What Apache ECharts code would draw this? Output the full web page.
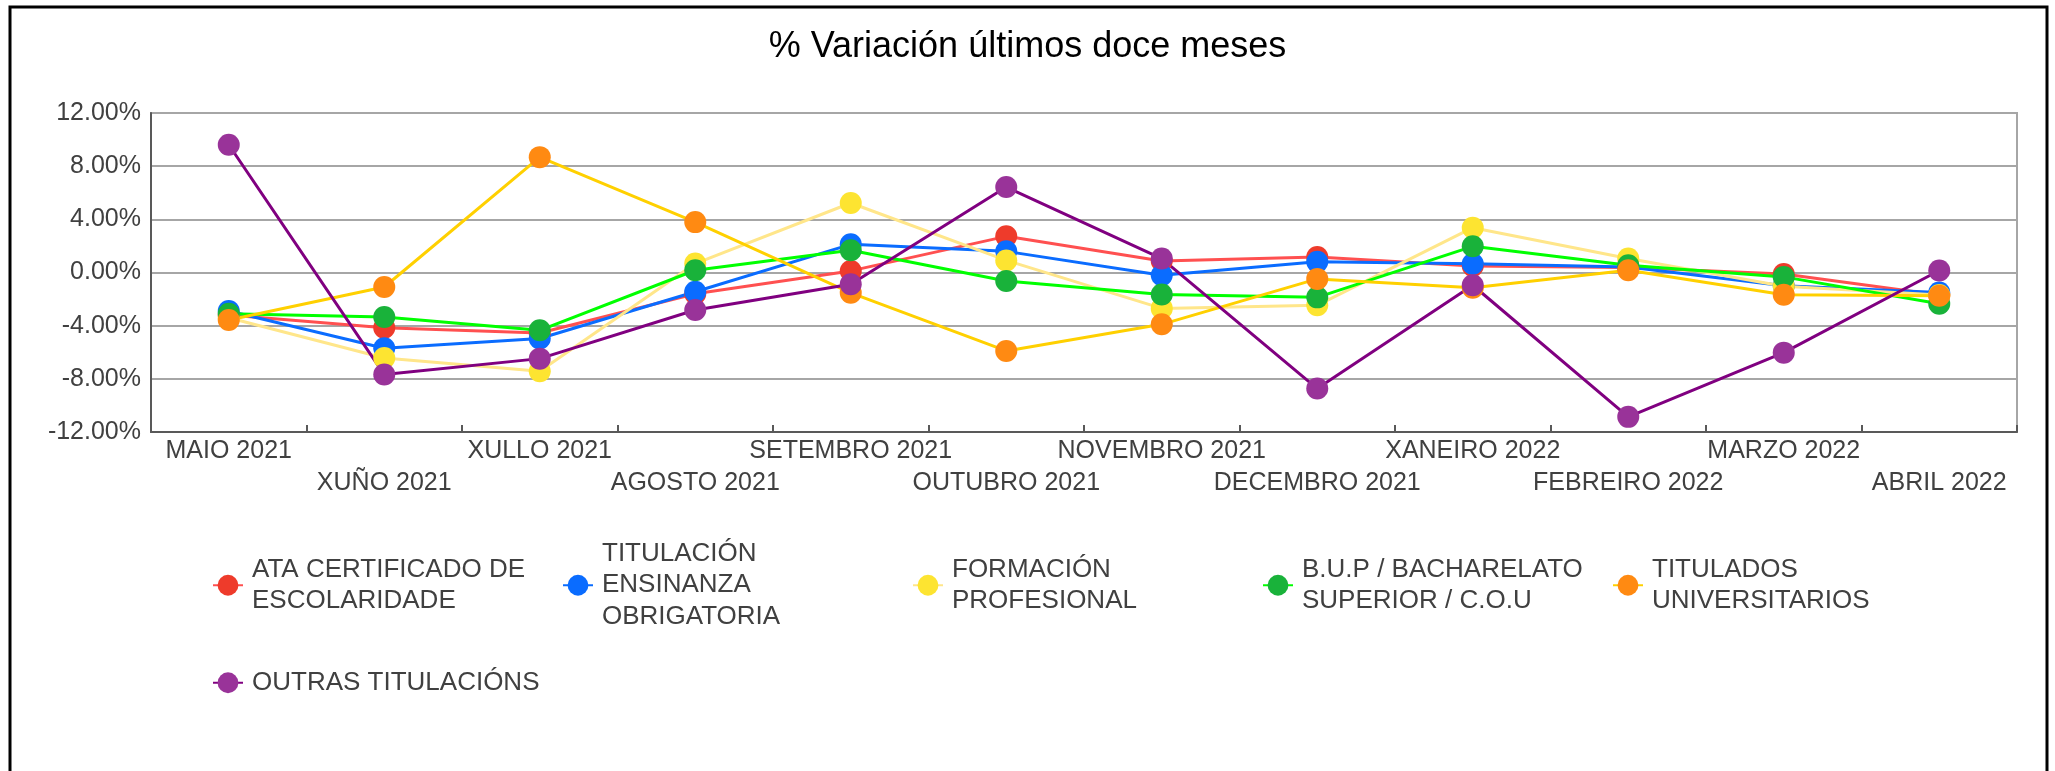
<!DOCTYPE html>
<html>
<head>
<meta charset="utf-8">
<script src="https://cdn.jsdelivr.net/npm/echarts@6/dist/echarts.min.js"></script>
<style>
  html, body { margin: 0; padding: 0; background: #fff; }
  #main { width: 2055px; height: 771px; }
</style>
</head>
<body>
<div id="main"></div>
<script type="text/javascript">
// meses (eixo X)
var categories = ['MAIO 2021', 'XUÑO 2021', 'XULLO 2021', 'AGOSTO 2021', 'SETEMBRO 2021', 'OUTUBRO 2021',
    'NOVEMBRO 2021', 'DECEMBRO 2021', 'XANEIRO 2022', 'FEBREIRO 2022', 'MARZO 2022', 'ABRIL 2022'];

// % variación por titulación
var ataCertificado = [-3.2, -4.15, -4.55, -1.6, 0.12, 2.72, 0.87, 1.17, 0.49, 0.37, -0.12, -1.7];
var titulacionEnsinanza = [-2.9, -5.7, -4.97, -1.45, 2.12, 1.59, -0.2, 0.8, 0.66, 0.42, -1.0, -1.5];
var formacionProfesional = [-3.4, -6.43, -7.43, 0.67, 5.23, 0.91, -2.7, -2.47, 3.37, 1.05, -1.03, -1.7];
var bupBacharelato = [-3.1, -3.35, -4.35, 0.17, 1.67, -0.64, -1.65, -1.87, 1.97, 0.55, -0.33, -2.35];
var tituladosUniversitarios = [-3.57, -1.09, 8.68, 3.79, -1.53, -5.9, -3.9, -0.48, -1.14, 0.17, -1.68, -1.75];
var outrasTitulacions = [9.61, -7.68, -6.48, -2.82, -0.88, 6.43, 1.05, -8.73, -0.96, -10.86, -6.03, 0.15];

// eixo Y
var yMin = -12, yMax = 12, yStep = 4;

var names = ['ATA CERTIFICADO DE ESCOLARIDADE', 'TITULACIÓN ENSINANZA OBRIGATORIA', 'FORMACIÓN PROFESIONAL',
    'B.U.P / BACHARELATO SUPERIOR / C.O.U', 'TITULADOS UNIVERSITARIOS', 'OUTRAS TITULACIÓNS'];
var values = [ataCertificado, titulacionEnsinanza, formacionProfesional, bupBacharelato, tituladosUniversitarios, outrasTitulacions];
var markerColors = ['#EE3B2B', '#0A6CFF', '#FDE431', '#19B23A', '#FF8A12', '#993399'];
var lineColors = ['#FF5050', '#0A6CFF', '#FFE68A', '#00FF00', '#FFD000', '#800080'];

var font = "'Liberation Sans', Arial, sans-serif";

var series = names.map(function (n, i) {
    return {
        name: n,
        type: 'line',
        data: values[i],
        symbol: 'circle',
        symbolSize: 22,
        showAllSymbol: true,
        lineStyle: { color: lineColors[i], width: 3 },
        itemStyle: { color: markerColors[i] },
        emphasis: { disabled: true },
        animation: false
    };
});

// texto da lenda: ancho fixo para que as etiquetas longas partan en varias liñas
var legendText = {
    fontFamily: font,
    fontSize: 26,
    color: '#404040',
    width: 292,
    overflow: 'break',
    lineHeight: 31.5,
    padding: [0, 0, 16, 4]
};

var myChart = echarts.init(document.getElementById('main'), null, { renderer: 'canvas' });

var option = {
    backgroundColor: '#fff',
    animation: false,
    title: {
        text: '% Variación últimos doce meses',
        left: 'center',
        top: 24,
        textStyle: { fontFamily: font, fontSize: 36, fontWeight: 'normal', color: '#000' }
    },
    legend: [
        {
            data: names.slice(0, 5),
            left: 212,
            top: 530,
            padding: 0,
            itemWidth: 30,
            itemHeight: 26,
            itemGap: 18,
            selectedMode: false,
            textStyle: legendText
        },
        {
            data: names.slice(5),
            left: 212,
            top: 659,
            padding: 0,
            itemWidth: 30,
            itemHeight: 26,
            selectedMode: false,
            textStyle: {
                fontFamily: font,
                fontSize: 26,
                color: '#404040',
                lineHeight: 31.5,
                padding: [0, 0, 16, 4]
            }
        }
    ],
    grid: {
        left: 151,
        right: 38,
        top: 113,
        bottom: 339,
        show: true,
        borderColor: '#A6A6A6',
        borderWidth: 2,
        outerBoundsMode: 'none'
    },
    xAxis: {
        type: 'category',
        data: categories,
        boundaryGap: true,
        axisLine: { onZero: false, lineStyle: { color: '#595959', width: 2 } },
        axisTick: { show: true, inside: true, length: 7, lineStyle: { color: '#595959', width: 2 } },
        axisLabel: {
            interval: 0,
            margin: 3,
            fontFamily: font,
            fontSize: 25,
            lineHeight: 32,
            color: '#404040',
            formatter: function (v, i) { return i % 2 ? '\n' + v : v; }
        },
        splitLine: { show: false }
    },
    yAxis: {
        type: 'value',
        min: yMin,
        max: yMax,
        interval: yStep,
        axisLine: { show: true, lineStyle: { color: '#595959', width: 2 } },
        axisTick: { show: false },
        axisLabel: {
            margin: 10,
            fontFamily: font,
            fontSize: 25,
            color: '#404040',
            padding: [0, 0, 7, 0],
            formatter: function (v) { return v.toFixed(2) + '%'; }
        },
        splitLine: { lineStyle: { color: '#A6A6A6', width: 2 } }
    },
    graphic: [
        {
            type: 'rect',
            silent: true,
            shape: { x: 10, y: 7, width: 2037, height: 800 },
            style: { fill: 'none', stroke: '#000', lineWidth: 3 }
        }
    ],
    series: series
};

myChart.setOption(option);
</script>
</body>
</html>
